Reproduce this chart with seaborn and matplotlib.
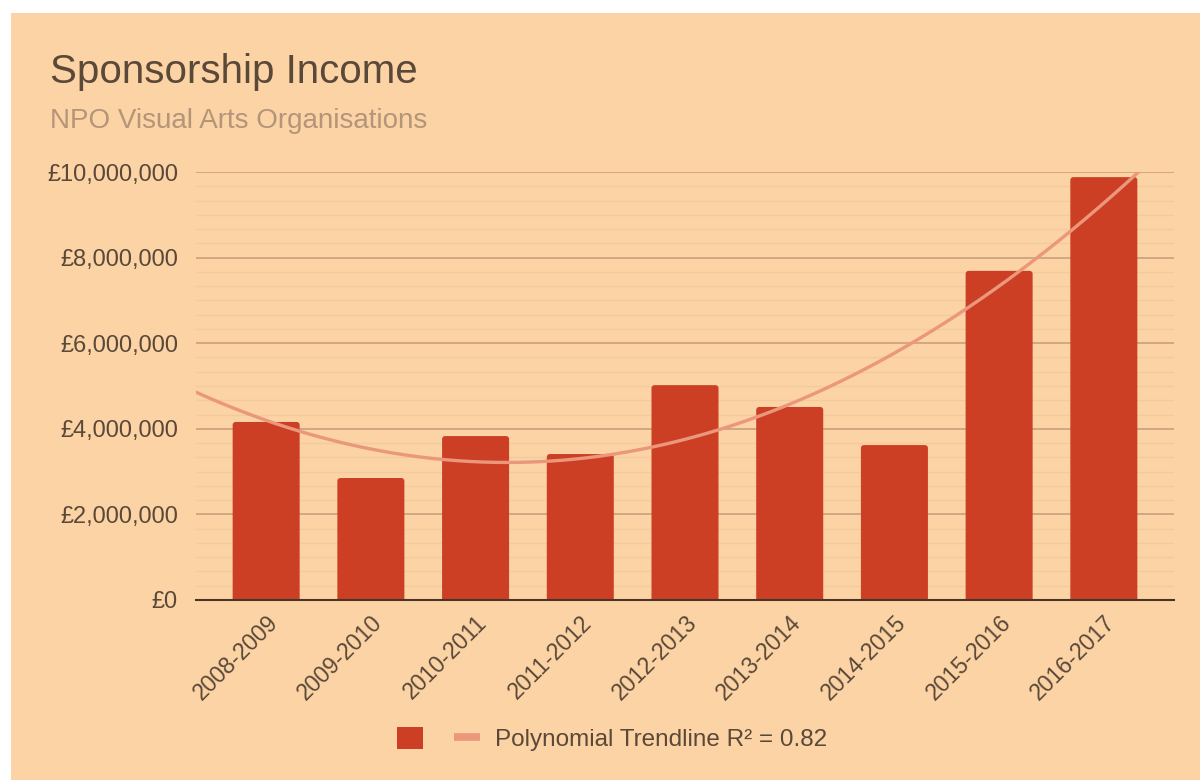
import numpy as np
import pandas as pd
import matplotlib
matplotlib.use("Agg")
import matplotlib.pyplot as plt
from matplotlib.patches import Rectangle, Patch, FancyBboxPatch
from matplotlib.lines import Line2D
from matplotlib.ticker import FuncFormatter, MultipleLocator
import seaborn as sns

# Sponsorship income by financial year (GBP)
seasons = ["2008-2009", "2009-2010", "2010-2011", "2011-2012", "2012-2013",
           "2013-2014", "2014-2015", "2015-2016", "2016-2017"]
income = [4160000, 2850000, 3830000, 3410000, 5020000,
          4510000, 3620000, 7690000, 9880000]
y_ticks = [0, 2000000, 4000000, 6000000, 8000000, 10000000]

title = "Sponsorship Income"
subtitle = "NPO Visual Arts Organisations"
trend_label = "Polynomial Trendline R\u00b2 = 0.82"

BG = "#FCD3A5"
BAR = "#CC3F24"
TREND = "#EB977B"
TEXT = "#5A4838"
SUB = "#B4957A"
MAJOR = "#D0A380"
MINOR = "#F3C99E"

sns.set_theme(style="white")
plt.rcParams["font.family"] = ["Liberation Sans", "DejaVu Sans"]

df = pd.DataFrame({"season": seasons, "income": income})

W, H = 1200, 780
fig = plt.figure(figsize=(W / 100, H / 100), dpi=100)
fig.patch.set_facecolor("white")
# peach card with a thin white margin on top and left
fig.patches.append(Rectangle((11 / W, 0), 1, 1 - 13 / H,
                             transform=fig.transFigure, facecolor=BG,
                             edgecolor="none", zorder=-10))

ax_l, ax_r, ax_t, ax_b = 196, 1174, 172, 600
ax = fig.add_axes([ax_l / W, 1 - ax_b / H, (ax_r - ax_l) / W, (ax_b - ax_t) / H])
ax.patch.set_alpha(0)

sns.barplot(data=df, x="season", y="income", color=BAR, width=0.64,
            saturation=1, edgecolor="none", linewidth=0, ax=ax, zorder=3)

xmin, xmax = -0.67, len(income) - 0.33
ymax = 10000000
ax.set_xlim(xmin, xmax)
ax.set_ylim(0, ymax)

# give the bars slightly rounded top corners
radius_px = 3
x_per_px = (xmax - xmin) / (ax_r - ax_l)
y_per_px = ymax / (ax_b - ax_t)
for bar in list(ax.patches):
    x, w, h = bar.get_x(), bar.get_width(), bar.get_height()
    ry = radius_px * y_per_px
    rounded = FancyBboxPatch((x, -ry), w, h + ry,
                             boxstyle=f"round,pad=0,rounding_size={radius_px * x_per_px}",
                             mutation_aspect=y_per_px / x_per_px,
                             facecolor=BAR, edgecolor="none", zorder=3)
    bar.set_visible(False)
    ax.add_patch(rounded)

# quadratic trendline fitted to the yearly values
xi = np.arange(len(income))
coef = np.polyfit(xi, income, 2)
xs = np.linspace(xmin, xmax, 300)
ax.plot(xs, np.polyval(coef, xs), color=TREND, lw=2.4, zorder=4,
        solid_capstyle="round")

ax.set_yticks(y_ticks)
ax.yaxis.set_minor_locator(MultipleLocator(2000000 / 6))
ax.yaxis.set_major_formatter(FuncFormatter(lambda v, p: f"\u00a3{v:,.0f}"))
ax.grid(axis="y", which="major", color=MAJOR, lw=1.3, zorder=1)
ax.grid(axis="y", which="minor", color=MINOR, lw=1.0, zorder=0)
ax.grid(axis="x", visible=False)
ax.set_axisbelow(True)
for s in ["top", "right", "left"]:
    ax.spines[s].set_visible(False)
ax.spines["bottom"].set_color("#4A3428")
ax.spines["bottom"].set_linewidth(1.5)
ax.spines["bottom"].set_zorder(5)

ax.set_xlabel("")
ax.set_ylabel("")
ax.tick_params(axis="y", which="both", length=0, pad=13, labelsize=17, labelcolor=TEXT)
ax.tick_params(axis="x", length=0, pad=8, labelsize=16.5, labelcolor=TEXT)
for lab in ax.get_xticklabels():
    lab.set_rotation(45)
    lab.set_ha("right")
    lab.set_va("top")
    lab.set_rotation_mode("anchor")

fig.text(50 / W, 1 - 83 / H, title, fontsize=29, color=TEXT, va="baseline")
fig.text(50 / W, 1 - 128 / H, subtitle, fontsize=20, color=SUB, va="baseline")

handles = [Patch(facecolor=BAR, edgecolor="none"),
           Line2D([0], [0], color=TREND, lw=5.5, solid_capstyle="butt")]
leg = fig.legend(handles, ["", trend_label], loc="center",
                 bbox_to_anchor=(612 / W, 1 - 739 / H), ncol=2,
                 frameon=False, fontsize=17.5, handlelength=1.05, handleheight=1.0,
                 handletextpad=0.6, columnspacing=0.7, labelcolor=TEXT)

fig.savefig("out.png", dpi=100, facecolor=fig.get_facecolor())
